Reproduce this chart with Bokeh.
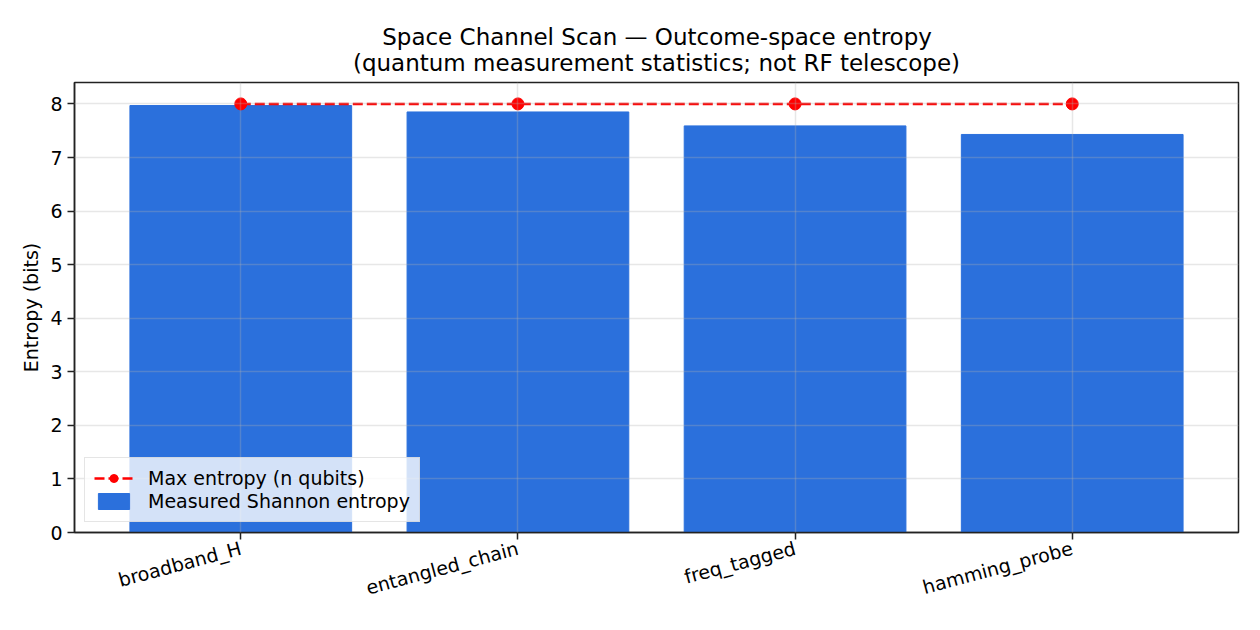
from bokeh.plotting import figure
from bokeh.models import Range1d, FixedTicker, Legend, LegendItem, ColumnDataSource
from bokeh.embed import file_html
from bokeh.resources import INLINE
import math

# data
channels = ["broadband_H", "entangled_chain", "freq_tagged", "hamming_probe"]
measured_entropy = [7.97, 7.85, 7.59, 7.43]
max_entropy = [8, 8, 8, 8]
y_ticks = [0, 1, 2, 3, 4, 5, 6, 7, 8]

FONT = "DejaVu Sans"
FS = "19px"
idx = list(range(len(channels)))

src = ColumnDataSource(data=dict(x=idx, name=channels, h=measured_entropy, hmax=max_entropy))

p = figure(width=1244, height=614, output_backend="svg", toolbar_location=None,
           x_range=Range1d(-0.6, len(channels) - 0.4), y_range=Range1d(0, 8.4),
           min_border_left=74, min_border_right=6, min_border_top=82, min_border_bottom=82)

# two-line title; non-breaking spaces centre the shorter first line over the second
p.title.text = ("\u00a0" * 4 + "Space Channel Scan \u2014 Outcome-space entropy\n"
                "(quantum measurement statistics; not RF telescope)")
p.title.align = "center"
p.title.text_font = FONT
p.title.text_font_size = "23px"
p.title.text_font_style = "normal"
p.title.text_color = "black"
p.title.standoff = 13

bars = p.vbar(x="x", top="h", width=0.8, source=src, color="#2b70dc")
ln = p.line(x="x", y="hmax", source=src, line_color="red", line_width=2.5, line_dash="10 4")
pts = p.scatter(x="x", y="hmax", source=src, size=12, color="red")

# axes
p.xaxis.ticker = FixedTicker(ticks=idx)
p.xaxis.major_label_overrides = {i: n for i, n in enumerate(channels)}
p.xaxis.major_label_orientation = math.radians(15)
p.xaxis.major_label_standoff = 8
p.yaxis.ticker = FixedTicker(ticks=y_ticks)
p.yaxis.axis_label = "Entropy (bits)"
for ax in (p.xaxis, p.yaxis):
    ax.major_label_text_font = FONT
    ax.major_label_text_font_size = FS
    ax.major_label_text_color = "black"
    ax.axis_label_text_font = FONT
    ax.axis_label_text_font_size = FS
    ax.axis_label_text_font_style = "normal"
    ax.axis_label_text_color = "black"
    ax.axis_line_color = "#222222"
    ax.axis_line_width = 1.5
    ax.major_tick_line_color = "#222222"
    ax.major_tick_line_width = 1.5
    ax.major_tick_out = 7
    ax.major_tick_in = 0
    ax.minor_tick_line_color = None

p.outline_line_color = "#222222"
p.outline_line_width = 1.5

for g in (p.xgrid, p.ygrid):
    g.grid_line_color = "#b0b0b0"
    g.grid_line_alpha = 0.3
    g.grid_line_width = 1.5
    g.level = "guide"

legend = Legend(items=[
    LegendItem(label="Max entropy (n qubits)", renderers=[ln, pts]),
    LegendItem(label="Measured Shannon entropy", renderers=[bars]),
], location="bottom_left")
legend.label_text_font = FONT
legend.label_text_font_size = FS
legend.label_text_color = "black"
legend.background_fill_alpha = 0.8
legend.border_line_color = "#cccccc"
legend.border_line_width = 1
legend.glyph_width = 39
legend.glyph_height = 20
legend.label_height = 20
legend.label_standoff = 15
legend.spacing = 1
legend.padding = 9
legend.margin = 10
p.add_layout(legend)

open("out.html", "w").write(file_html(p, INLINE))
